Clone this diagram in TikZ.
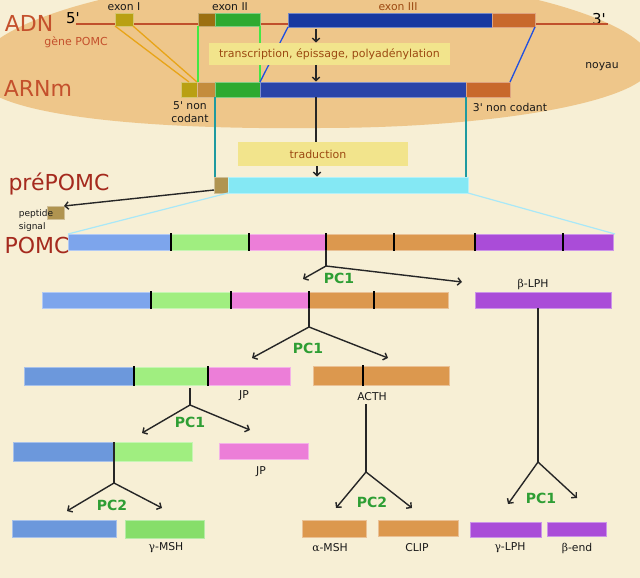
\documentclass[tikz,border=0pt]{standalone}
\usepackage{fontspec}
\setmainfont{DejaVu Sans}
\newfontfamily\grk{DejaVu Serif}
\usetikzlibrary{arrows.meta}
\definecolor{bgc}{HTML}{F7EFD5}
\definecolor{ellc}{HTML}{EEC68A}
\definecolor{redb}{HTML}{C4502C}
\definecolor{redd}{HTML}{A52A1E}
\definecolor{dnal}{HTML}{C0502C}
\definecolor{exI}{HTML}{B9A012}
\definecolor{exIIb}{HTML}{9C7010}
\definecolor{exg}{HTML}{2EAA30}
\definecolor{exbl}{HTML}{1838A0}
\definecolor{exor}{HTML}{C8682C}
\definecolor{mtan}{HTML}{C48C3C}
\definecolor{mbl}{HTML}{2A44A8}
\definecolor{boxy}{HTML}{F2E48C}
\definecolor{boxt}{HTML}{9C4A12}
\definecolor{linor}{HTML}{E8A418}
\definecolor{lingr}{HTML}{44E844}
\definecolor{linbl}{HTML}{2050E0}
\definecolor{teal}{HTML}{1E9AA0}
\definecolor{cyanb}{HTML}{84E8F4}
\definecolor{sigb}{HTML}{B09450}
\definecolor{lcyan}{HTML}{A8E8F8}
\definecolor{pblue}{HTML}{7DA5EC}
\definecolor{pblue2}{HTML}{6C98DC}
\definecolor{pgreen}{HTML}{A0EE80}
\definecolor{pgreen2}{HTML}{86DE6A}
\definecolor{ppink}{HTML}{EC7ED8}
\definecolor{porange}{HTML}{DC984E}
\definecolor{ppurple}{HTML}{AA4CD8}
\definecolor{pcgreen}{HTML}{2E9E34}
\newcommand{\mkseg}[6]{\node[seg, fill=#6, draw=#6!60!white, minimum width={(#4)-(#2)}, minimum height={(#5)-(#3)}] (#1) at ({((#2)+(#4))/2},{((#3)+(#5))/2}) {};}
\newcommand{\q}{\textquotesingle}
\begin{document}
\begin{tikzpicture}[x=1pt,y=-1pt,
  seg/.style={rectangle, inner sep=0pt, outer sep=0pt, line width=0.5pt},
  lbl/.style={inner sep=0pt, font=\fontsize{10.8}{13}\selectfont, text=black!90},
  big/.style={inner sep=0pt, font=\fontsize{22}{24}\selectfont},
  pc/.style={inner sep=0pt, font=\bfseries\fontsize{14}{16}\selectfont, text=pcgreen},
  tick/.style={line width=1.3pt, black},
  link/.style={line width=1.4pt, black!85},
  arr/.style={link, -{Straight Barb[length=3.5pt,width=7.5pt]}},
  ybox/.style={rectangle, inner sep=0pt, fill=boxy, text=boxt, font=\fontsize{11}{13}\selectfont}
]
\useasboundingbox (0,0) rectangle (640,578);
\fill[bgc] (0,0) rectangle (640,578);
\begin{scope}
\clip (0,0) rectangle (640,578);
\fill[ellc] (-25,72) .. controls (-25,20) and (150,-25) .. (320,-25)
  .. controls (490,-25) and (652,20) .. (652,64)
  .. controls (652,100) and (500,128) .. (320,128)
  .. controls (140,130) and (-25,115) .. (-25,72) -- cycle;
\end{scope}

% ---------- ADN ----------
\node[big, text=redb] (adn) at (29,23) {ADN};
\node[inner sep=0pt, text=redb, font=\fontsize{11}{13}\selectfont] (gene) at (76,42) {gène POMC};
\node[inner sep=0pt, font=\fontsize{15}{17}\selectfont] (p5) at (73,18) {5\q};
\node[inner sep=0pt, font=\fontsize{15}{17}\selectfont] (p3) at (599,19) {3\q};
\coordinate (dnaA) at (76,24);
\coordinate (dnaB) at (608,24);
\draw[dnal, line width=1.6pt] (dnaA) -- (dnaB);
\mkseg{e1}{115}{13}{133}{26}{exI}
\mkseg{e2a}{198}{13}{215}{26}{exIIb}
\mkseg{e2b}{215}{13}{260}{26}{exg}
\mkseg{e3a}{288}{13}{492}{27}{exbl}
\mkseg{e3b}{492}{13}{535}{27}{exor}
\node[lbl] (lx1) at (124,7) {exon I};
\node[lbl] (lx2) at (230,7) {exon II};
\node[lbl, text=boxt] (lx3) at (398,7) {exon III};

% ---------- ARNm ----------
\node[big, text=redb] (arnm) at (38,88) {ARNm};
\mkseg{m1}{181}{82}{197}{97}{exI}
\mkseg{m2}{197}{82}{215}{97}{mtan}
\mkseg{m3}{215}{82}{260}{97}{exg}
\mkseg{m4}{260}{82}{466}{97}{mbl}
\mkseg{m5}{466}{82}{510}{97}{exor}
\node[lbl, align=center] (nc5) at (190,112) {5\q{} non\\codant};
\node[lbl] (nc3) at (510,107) {3\q{} non codant};
\node[lbl] (noyau) at (602,67) {noyau};

% exon links
\draw[linor, line width=1.3pt] (e1.south west) -- (m1.north);
\draw[linor, line width=1.3pt] (e1.south east) -- (m1.north east);
\draw[lingr, line width=1.3pt] (e2a.south west) -- (e2a.south west |- m2.north);
\draw[lingr, line width=1.3pt] (e2b.south east) -- (e2b.south east |- m3.north);
\draw[linbl, line width=1.3pt] (e3a.south west) -- (m4.north west);
\draw[linbl, line width=1.3pt] (e3b.south east) -- (m5.north east);

% transcription
\node[ybox, minimum width=241, minimum height=22] (tbox) at (329.5,54) {transcription, épissage, polyadénylation};
\coordinate (ta) at (316,29);
\coordinate (tb) at (316,42.5);
\coordinate (tc) at (316,65);
\coordinate (td) at (316,81.5);
\draw[arr] (ta) -- (tb);
\draw[arr] (tc) -- (td);

% ---------- traduction ----------
\node[ybox, minimum width=170, minimum height=24] (dbox) at (323,154) {\hspace*{-10pt}traduction};
\coordinate (da) at (316,97);
\coordinate (db) at (316,142);
\coordinate (dc) at (317,166);
\coordinate (dd) at (317,176.5);
\draw[link] (da) -- (db);
\draw[arr] (dc) -- (dd);

% ---------- prePOMC ----------
\node[big, text=redd] (prep) at (59,184) {préPOMC};
\mkseg{ppb}{214}{177}{228}{193}{sigb}
\mkseg{pp}{228}{177}{468}{193}{cyanb}
\draw[teal, line width=1.2pt] (m3.south west) -- (m3.south west |- pp.north);
\draw[teal, line width=1.2pt] (m4.south east) -- (m4.south east |- pp.north);
\mkseg{sig}{47}{206}{64}{219}{sigb}
\draw[arr] ([yshift=3pt]ppb.south west) -- (sig.north east);
\node[inner sep=0pt, align=left, font=\fontsize{9}{13}\selectfont, text=black!90] (sigl) at (36,221) {peptide\\signal};

% ---------- POMC ----------
\node[big, text=redd] (pomc) at (37,245) {POMC};
\mkseg{b1}{68}{234}{171}{250}{pblue}
\mkseg{b2}{171}{234}{249}{250}{pgreen}
\mkseg{b3}{249}{234}{326}{250}{ppink}
\mkseg{b4}{326}{234}{475}{250}{porange}
\mkseg{b5}{475}{234}{613}{250}{ppurple}
\draw[lcyan, line width=1.2pt] (pp.south west) -- (b1.north west);
\draw[lcyan, line width=1.2pt] (pp.south east) -- ([xshift=2pt]b5.north east);
\draw[tick] ([yshift=1pt]b1.north east) -- ([yshift=-1pt]b1.south east);
\draw[tick] ([yshift=1pt]b2.north east) -- ([yshift=-1pt]b2.south east);
\draw[tick] ([yshift=1pt]b4.north west) -- ([yshift=-1pt]b4.south west);
\coordinate (k1) at (394,233);
\coordinate (k2) at (394,251);
\draw[tick] (k1) -- (k2);
\draw[tick] ([yshift=1pt]b4.north east) -- ([yshift=-1pt]b4.south east);
\coordinate (k3) at (563,233);
\coordinate (k4) at (563,251);
\draw[tick] (k3) -- (k4);

% split 1
\coordinate (j1) at (326,266);
\coordinate (t1a) at (303,279);
\coordinate (t1b) at (462,282);
\draw[link] (b4.south west) -- (j1);
\draw[arr] (j1) -- (t1a);
\draw[arr] (j1) -- (t1b);
\node[pc] (pc1a) at (339,278) {PC1};
\node[lbl] (blphl) at (533,284) {{\grk β}-LPH};

% ---------- row 2 ----------
\mkseg{r2a}{42}{292}{151}{308}{pblue}
\mkseg{r2b}{151}{292}{231}{308}{pgreen}
\mkseg{r2c}{231}{292}{309}{308}{ppink}
\mkseg{r2d}{309}{292}{448}{308}{porange}
\mkseg{bl}{475}{292}{611}{308}{ppurple}
\draw[tick] ([yshift=1pt]r2a.north east) -- ([yshift=-1pt]r2a.south east);
\draw[tick] ([yshift=1pt]r2b.north east) -- ([yshift=-1pt]r2b.south east);
\draw[tick] ([yshift=1pt]r2c.north east) -- ([yshift=-1pt]r2c.south east);
\coordinate (k5) at (374,291);
\coordinate (k6) at (374,309);
\draw[tick] (k5) -- (k6);

% split 2
\coordinate (j2) at (309,327);
\coordinate (t2a) at (252,358);
\coordinate (t2b) at (388,358);
\draw[link] (r2c.south east) -- (j2);
\draw[arr] (j2) -- (t2a);
\draw[arr] (j2) -- (t2b);
\node[pc] (pc1b) at (308,348) {PC1};

% ---------- row 3 ----------
\mkseg{r3a}{24}{367}{134}{385}{pblue2}
\mkseg{r3b}{134}{367}{208}{385}{pgreen}
\mkseg{r3c}{208}{367}{290}{385}{ppink}
\mkseg{acth}{313}{366}{449}{385}{porange}
\draw[tick] ([yshift=1pt]r3a.north east) -- ([yshift=-1pt]r3a.south east);
\draw[tick] ([yshift=1pt]r3b.north east) -- ([yshift=-1pt]r3b.south east);
\coordinate (k7) at (363,365);
\coordinate (k8) at (363,386);
\draw[tick] (k7) -- (k8);
\node[lbl] (jp1) at (244,396) {JP};
\node[lbl] (acthl) at (372,397) {ACTH};

% split 3
\coordinate (s3) at (190,388);
\coordinate (j3) at (190,405);
\coordinate (t3a) at (142,433);
\coordinate (t3b) at (250,430);
\draw[link] (s3) -- (j3);
\draw[arr] (j3) -- (t3a);
\draw[arr] (j3) -- (t3b);
\node[pc] (pc1c) at (190,422) {PC1};

% ACTH split
\coordinate (j5) at (366,472);
\coordinate (t5a) at (336,508);
\coordinate (t5b) at (412,508);
\draw[link] ([yshift=-3pt]acthl.south -| j5) -- (j5);
\draw[arr] (j5) -- (t5a);
\draw[arr] (j5) -- (t5b);
\node[pc] (pc2b) at (372,502) {PC2};

% beta-LPH split
\coordinate (j6) at (538,462);
\coordinate (t6a) at (508,504);
\coordinate (t6b) at (577,498);
\draw[link] (bl.south -| j6) -- (j6);
\draw[arr] (j6) -- (t6a);
\draw[arr] (j6) -- (t6b);
\node[pc] (pc1d) at (541,498) {PC1};

% ---------- row 4 ----------
\mkseg{r4a}{13}{442}{114}{461}{pblue2}
\mkseg{r4b}{114}{442}{192}{461}{pgreen}
\mkseg{r4c}{219}{443}{308}{459}{ppink}
\node[lbl] (jp2) at (261,472) {JP};

% split 4
\coordinate (j4) at (114,483);
\coordinate (t4a) at (67,511);
\coordinate (t4b) at (162,508);
\draw[link] (r4a.north east) -- (j4);
\draw[arr] (j4) -- (t4a);
\draw[arr] (j4) -- (t4b);
\node[pc] (pc2a) at (112,505) {PC2};

% ---------- row 5 ----------
\mkseg{f1}{12}{520}{116}{537}{pblue2}
\mkseg{f2}{125}{520}{204}{538}{pgreen2}
\mkseg{f3}{302}{520}{366}{537}{porange}
\mkseg{f4}{378}{520}{458}{536}{porange}
\mkseg{f5}{470}{522}{541}{537}{ppurple}
\mkseg{f6}{547}{522}{606}{536}{ppurple}
\node[lbl] (gmsh) at (166,548) {{\grk γ}-MSH};
\node[lbl] (amsh) at (330,548) {{\grk α}-MSH};
\node[lbl] (clip) at (417,548) {CLIP};
\node[lbl] (glph) at (510,548) {{\grk γ}-LPH};
\node[lbl] (bend) at (577,548) {{\grk β}-end};
\end{tikzpicture}
\end{document}
